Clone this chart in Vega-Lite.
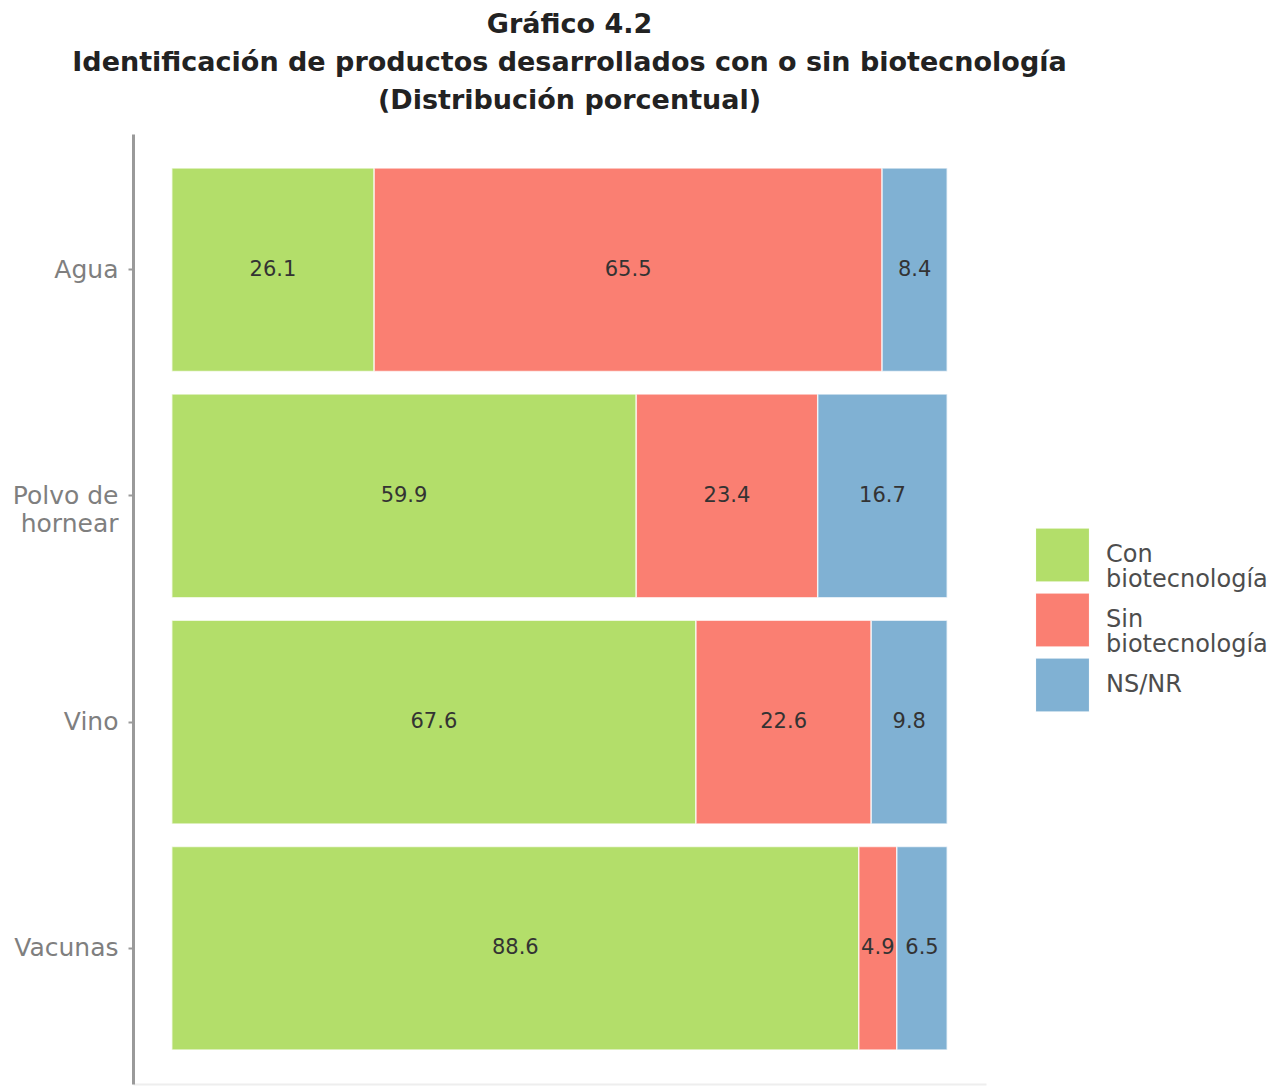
{
  "$schema": "https://vega.github.io/schema/vega-lite/v6.json",
  "autosize": "none",
  "width": 853,
  "height": 950,
  "padding": {"left": 133, "top": 134, "right": 298, "bottom": 2},
  "background": "white",
  "title": {
    "text": ["Gráfico 4.2", "Identificación de productos desarrollados con o sin biotecnología", "(Distribución porcentual)"],
    "anchor": "middle",
    "frame": "group",
    "dx": 10,
    "fontSize": 27,
    "font": "DejaVu Sans",
    "fontWeight": "bold",
    "lineHeight": 38,
    "color": "#222222",
    "offset": 19
  },
  "data": {
    "values": [
      {"producto": "Agua", "respuesta": "Con biotecnología", "orden": 1, "valor": 26.1},
      {"producto": "Agua", "respuesta": "Sin biotecnología", "orden": 2, "valor": 65.5},
      {"producto": "Agua", "respuesta": "NS/NR", "orden": 3, "valor": 8.4},
      {"producto": "Polvo de hornear", "respuesta": "Con biotecnología", "orden": 1, "valor": 59.9},
      {"producto": "Polvo de hornear", "respuesta": "Sin biotecnología", "orden": 2, "valor": 23.4},
      {"producto": "Polvo de hornear", "respuesta": "NS/NR", "orden": 3, "valor": 16.7},
      {"producto": "Vino", "respuesta": "Con biotecnología", "orden": 1, "valor": 67.6},
      {"producto": "Vino", "respuesta": "Sin biotecnología", "orden": 2, "valor": 22.6},
      {"producto": "Vino", "respuesta": "NS/NR", "orden": 3, "valor": 9.8},
      {"producto": "Vacunas", "respuesta": "Con biotecnología", "orden": 1, "valor": 88.6},
      {"producto": "Vacunas", "respuesta": "Sin biotecnología", "orden": 2, "valor": 4.9},
      {"producto": "Vacunas", "respuesta": "NS/NR", "orden": 3, "valor": 6.5}
    ]
  },
  "encoding": {
    "y": {
      "field": "producto",
      "type": "nominal",
      "sort": ["Agua", "Polvo de hornear", "Vino", "Vacunas"],
      "scale": {"paddingInner": 0.1, "paddingOuter": 0.15},
      "axis": {
        "title": null,
        "domainColor": "#9a9a9a",
        "domainWidth": 3,
        "tickColor": "#9a9a9a",
        "tickWidth": 2,
        "tickSize": 5,
        "labelColor": "#7f7f7f",
        "labelFontSize": 25,
        "labelFont": "DejaVu Sans",
        "labelPadding": 10,
        "labelLineHeight": 28,
        "labelExpr": "datum.value == 'Polvo de hornear' ? ['Polvo de', 'hornear'] : datum.value"
      }
    },
    "x": {
      "field": "valor",
      "type": "quantitative",
      "stack": "zero",
      "scale": {"domain": [-5, 105], "nice": false, "zero": false},
      "axis": {"title": null, "labels": false, "ticks": false, "grid": false, "domainColor": "#eeeeee", "domainWidth": 2}
    },
    "order": {"field": "orden", "type": "quantitative"}
  },
  "layer": [
    {
      "mark": {"type": "bar", "stroke": "white", "strokeWidth": 1.5, "strokeOpacity": 0.7},
      "encoding": {
        "color": {
          "field": "respuesta",
          "type": "nominal",
          "sort": ["Con biotecnología", "Sin biotecnología", "NS/NR"],
          "scale": {"domain": ["Con biotecnología", "Sin biotecnología", "NS/NR"], "range": ["#b3de6a", "#fa7f72", "#80b1d3"]},
          "legend": {
            "title": null,
            "orient": "none",
            "legendX": 902,
            "legendY": 393,
            "symbolType": "square",
            "symbolSize": 2900,
            "symbolStrokeColor": "white",
            "symbolStrokeWidth": 1,
            "symbolOpacity": 1,
            "labelFontSize": 24,
            "labelFont": "DejaVu Sans",
            "labelColor": "#4d4d4d",
            "labelOffset": 16,
            "labelLimit": 300,
            "rowPadding": 0,
            "clipHeight": 56,
            "labelExpr": "datum.value == 'NS/NR' ? datum.value : split(datum.value, ' ')",
            "encode": {
              "labels": {"update": {"lineHeight": {"value": 25}}}
            }
          }
        }
      }
    },
    {
      "mark": {"type": "text", "fontSize": 21, "font": "DejaVu Sans", "color": "#333333"},
      "encoding": {
        "x": {"field": "valor", "type": "quantitative", "stack": "zero", "bandPosition": 0.5},
        "text": {"field": "valor", "type": "quantitative", "format": ".1f"}
      }
    }
  ],
  "config": {"view": {"stroke": null}}
}
